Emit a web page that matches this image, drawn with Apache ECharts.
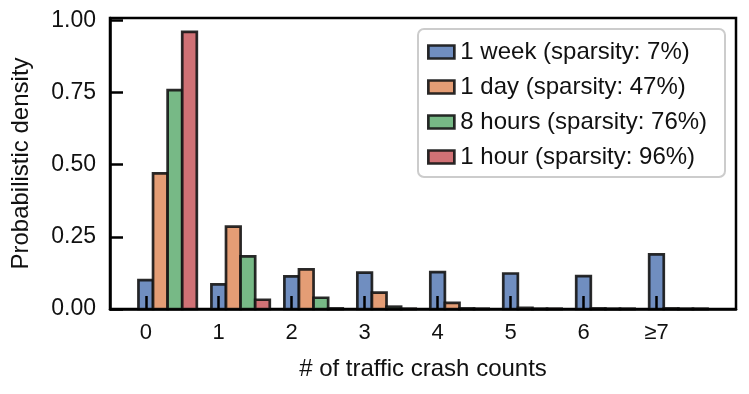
<!DOCTYPE html>
<html>
<head>
<meta charset="utf-8">
<script src="https://cdn.jsdelivr.net/npm/echarts@6/dist/echarts.min.js"></script>
<style>
  html, body { margin: 0; padding: 0; background: #fff; }
  #chart { width: 749px; height: 394px; }
</style>
</head>
<body>
<div id="chart"></div>
<script>
// crash-count bins (last one is ">= 7")
const categories = ['0', '1', '2', '3', '4', '5', '6', '≥7']
const seriesNames = [
  '1 week (sparsity: 7%)',
  '1 day (sparsity: 47%)',
  '8 hours (sparsity: 76%)',
  '1 hour (sparsity: 96%)'
]
const weekValues = [0.100, 0.085, 0.113, 0.126, 0.128, 0.123, 0.114, 0.189]
const dayValues = [0.470, 0.285, 0.137, 0.057, 0.021, 0.004, 0.002, 0.002]
const hoursValues = [0.758, 0.182, 0.039, 0.008, 0.002, 0.001, 0.001, 0.001]
const hourValues = [0.960, 0.032, 0.002, 0.001, 0.001, 0.001, 0.001, 0.001]
const yTicks = [0, 0.25, 0.5, 0.75, 1.0]

const colors = ['#708ec0', '#e49d75', '#77b986', '#d07175']
const edge = 'rgba(20,20,20,0.9)'
const barW = 0.2
const font = 'Liberation Sans, Arial, Helvetica, sans-serif'

const chart = echarts.init(document.getElementById('chart'))

const allValues = [weekValues, dayValues, hoursValues, hourValues]
const series = allValues.map((vals, k) => ({
  name: seriesNames[k],
  type: 'custom',
  itemStyle: { color: colors[k], borderColor: edge, borderWidth: 2.7 },
  renderItem(params, api) {
    const x = api.value(0)
    const y = api.value(1)
    const p0 = api.coord([x - barW / 2, y])
    const p1 = api.coord([x + barW / 2, 0])
    return {
      type: 'rect',
      shape: { x: p0[0], y: p0[1], width: p1[0] - p0[0], height: p1[1] - p0[1] },
      style: { fill: colors[k], stroke: edge, lineWidth: 2.7 }
    }
  },
  data: vals.map((v, i) => [i + k * barW, v])
}))

chart.setOption({
  animation: false,
  backgroundColor: '#fff',
  textStyle: { fontFamily: font },
  grid: {
    left: 110,
    right: 13,
    top: 18,
    bottom: 85,
    show: true,
    borderColor: '#000',
    borderWidth: 2.5,
    backgroundColor: 'transparent'
  },
  graphic: [
    {
      type: 'rect',
      z: 10,
      shape: { x: 418, y: 29, width: 307, height: 148, r: 6 },
      style: { fill: 'rgba(255,255,255,0.85)', stroke: '#cccccc', lineWidth: 2 }
    }
  ],
  legend: {
    orient: 'vertical',
    left: 427,
    top: 40,
    z: 20,
    padding: 0,
    itemWidth: 26,
    itemHeight: 13,
    itemGap: 11,
    icon: 'rect',
    textStyle: { fontSize: 24, color: '#111', fontFamily: font, lineHeight: 24, padding: [0, 0, 0, 1] },
    data: seriesNames.map((n, k) => ({
      name: n,
      itemStyle: { color: colors[k], borderColor: edge, borderWidth: 2.7 }
    }))
  },
  xAxis: {
    type: 'value',
    min: -0.49,
    max: 8.09,
    z: 5,
    name: '# of traffic crash counts',
    nameLocation: 'middle',
    nameGap: 48,
    nameTextStyle: { fontSize: 24, color: '#111', fontFamily: font },
    axisLine: { onZero: false, lineStyle: { color: '#000', width: 2.5 } },
    axisTick: {
      inside: true,
      length: 13,
      lineStyle: { color: '#000', width: 2.5 },
      customValues: categories.map((c, i) => i)
    },
    axisLabel: {
      fontSize: 22,
      color: '#111',
      margin: 13,
      customValues: categories.map((c, i) => i),
      formatter: v => categories[Math.round(v)]
    },
    splitLine: { show: false }
  },
  yAxis: {
    type: 'value',
    min: 0,
    max: 1.008,
    z: 5,
    name: 'Probabilistic density',
    nameLocation: 'middle',
    nameGap: 77,
    nameTextStyle: { fontSize: 24, color: '#111', fontFamily: font },
    axisLine: { onZero: false, lineStyle: { color: '#000', width: 2.5 } },
    axisTick: {
      inside: true,
      length: 13,
      lineStyle: { color: '#000', width: 2.5 },
      customValues: yTicks
    },
    axisLabel: {
      fontSize: 23,
      color: '#111',
      margin: 14,
      customValues: yTicks,
      formatter: v => v.toFixed(2)
    },
    splitLine: { show: false }
  },
  series
})
</script>
</body>
</html>
